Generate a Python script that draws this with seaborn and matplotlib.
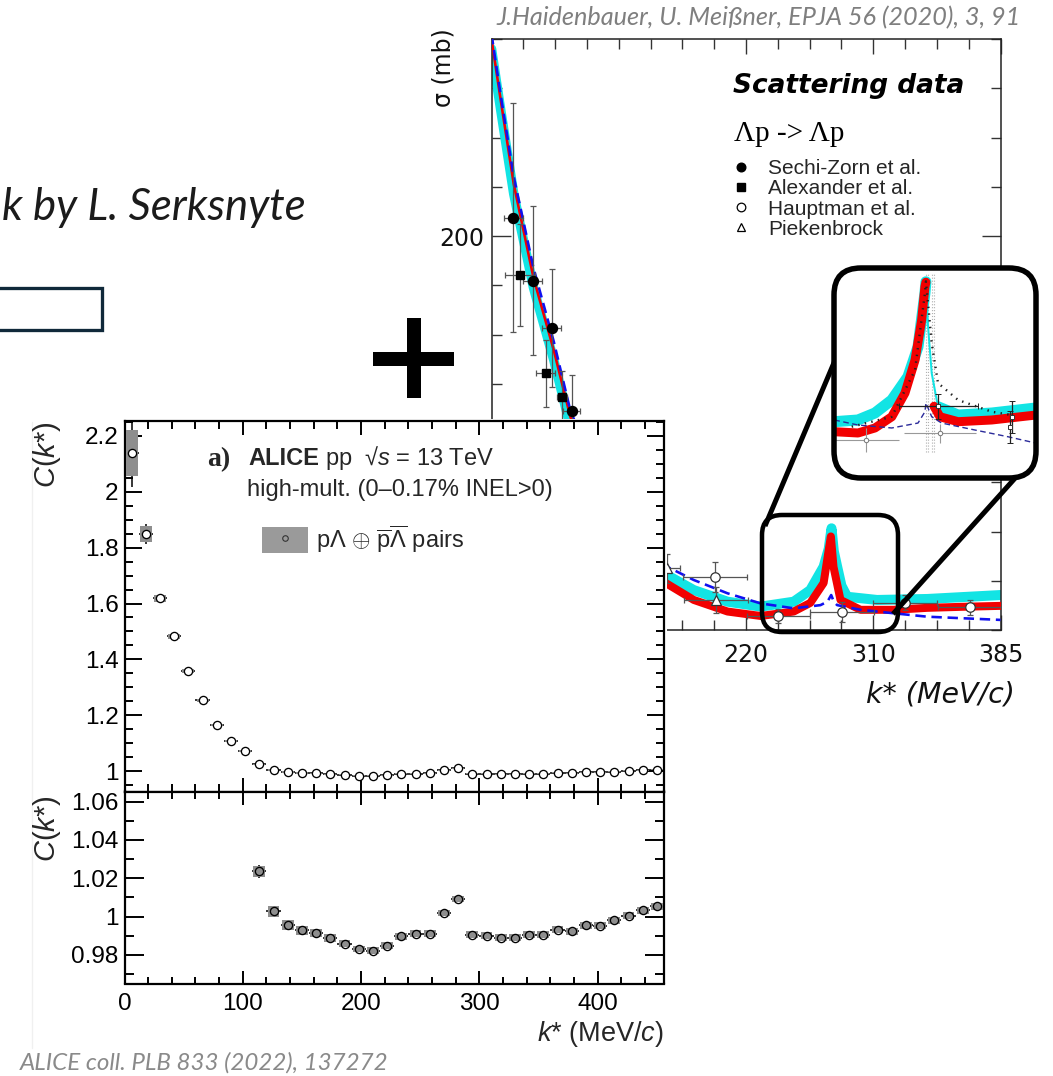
import matplotlib
matplotlib.use("Agg")
import matplotlib.pyplot as plt
import seaborn as sns
from matplotlib.patches import Rectangle, FancyBboxPatch, Patch
from matplotlib.lines import Line2D
from matplotlib.legend_handler import HandlerTuple
from matplotlib.ticker import MultipleLocator, FixedLocator, FixedFormatter, FormatStrFormatter, FuncFormatter

# ---------------- ALICE p-Lambda correlation function ----------------
kstar = [6, 18, 30, 42, 54, 66, 78, 90, 102, 114, 126, 138, 150, 162, 174, 186, 198, 210,
         222, 234, 246, 258, 270, 282, 294, 306, 318, 330, 342, 354, 366, 378, 390, 402,
         414, 426, 438, 450]
ck = [2.138, 1.849, 1.618, 1.482, 1.357, 1.253, 1.166, 1.108, 1.070, 1.0236, 1.0028, 0.9958,
      0.9929, 0.9915, 0.9889, 0.9859, 0.9831, 0.9822, 0.9849, 0.9897, 0.9910, 0.9911, 1.0019,
      1.0092, 0.9906, 0.9901, 0.9889, 0.9889, 0.9906, 0.9906, 0.9932, 0.9923, 0.9955, 0.9953,
      0.9981, 1.0005, 1.0033, 1.0054]
ck_stat = [0.12, 0.035, 0.012, 0.008, 0.006, 0.005, 0.004, 0.004, 0.003, 0.0035, 0.003, 0.0025,
           0.0022, 0.0018, 0.0018, 0.0018, 0.0018, 0.0018, 0.0018, 0.0018, 0.0018, 0.0018,
           0.0018, 0.0018, 0.0018, 0.0018, 0.0018, 0.0018, 0.0018, 0.0018, 0.0018, 0.0018,
           0.0018, 0.0018, 0.0018, 0.0018, 0.0018, 0.0018]
ck_syst = [0.083, 0.027, 0.012, 0.008, 0.007, 0.005, 0.004, 0.004, 0.0035, 0.003, 0.0028,
           0.0026, 0.0024, 0.0022, 0.002, 0.0018, 0.0018, 0.0018, 0.0018, 0.0018, 0.0018,
           0.0018, 0.0018, 0.0018, 0.0018, 0.0018, 0.0018, 0.0018, 0.0018, 0.0018, 0.0018,
           0.0018, 0.0018, 0.0018, 0.0018, 0.0018, 0.0018, 0.0018]
bin_half = 6
syst_box_width = 10

# ---------------- Lambda-p cross sections (p_lab in MeV/c, sigma in mb) ----------------
plab_ticks = [500, 700, 900]
kstar_tick_labels = ["220", "310", "385"]

sechi_p = [134.3, 164.8, 194.6, 226.1]
sechi_s = [207.4, 181.8, 162.5, 129.1]
sechi_dp = [15, 15, 15, 13]
sechi_ds = [46.5, 30.3, 24.0, 14.6]

alex_p = [144.8, 185.2, 210.3]
alex_s = [184.2, 144.2, 134.5]
alex_dp = [24, 15, 8]
alex_ds = [20.6, 13.5, 10.5]

haupt_p = [451.3, 550.8, 650.4, 749.9, 852.0]
haupt_s = [61.6, 45.7, 47.4, 51.1, 49.2]
haupt_dp = [50, 50, 50, 50, 50]
haupt_ds = [6.1, 3.0, 4.0, 3.0, 3.0]

pieken_p = [376.3, 452.8]
pieken_s = [65.0, 52.2]
pieken_dp = [20, 50]
pieken_ds = [6.0, 5.1]

red_p = [100, 114, 135, 166, 198, 224, 250, 275, 300, 325, 350, 366, 418, 471, 523, 575,
         601, 622, 630, 633.4, 637.5, 648.5, 680, 732, 785, 837, 900]
red_s = [280, 256, 221, 183, 153.5, 126.5, 112, 100, 88, 78, 67, 60.3, 52.2, 47.5, 45.7, 47.5,
         51, 59.1, 72.5, 78, 65.7, 52.2, 48.2, 48.2, 49, 49.4, 49.8]
cyan_p = [100, 114, 135, 166, 198, 224, 250, 275, 300, 325, 350, 366, 418, 471, 523, 575,
          601, 622, 630, 634.4, 638, 643.3, 650, 659, 706, 785, 900]
cyan_s = [276, 252, 217, 179, 149.5, 122.5, 108, 97, 87, 78.5, 70, 63.7, 56.2, 51.5, 49.5,
          51.5, 56.2, 65.7, 73, 81.3, 72, 65.7, 58, 53.5, 52.2, 52.6, 54.2]
blue_p = [100, 114, 135, 166, 198, 224, 250, 275, 300, 325, 350, 376, 418, 471, 523, 575,
          617, 628, 633.9, 638, 643.3, 680, 732, 785, 900]
blue_s = [282, 258, 224, 187, 157, 129, 113, 100, 89, 80, 71, 65.7, 60.3, 54.9, 50.8, 48.8,
          50.1, 51.5, 54.2, 51.5, 50.1, 48.2, 46.8, 45.4, 44.1]

# zoom on the Sigma-N threshold cusp
zin_red_left_p = [579, 593.3, 603.6, 613.8, 621.8, 627.9, 631.9, 633.9, 634.5]
zin_red_left_s = [5.21, 5.06, 5.65, 6.97, 9.76, 13.64, 18.35, 22.26, 22.8]
zin_red_right_p = [639.4, 643.0, 654.0, 674.4, 701.0]
zin_red_right_s = [8.2, 6.97, 6.39, 6.59, 7.17]
zin_cyan_p = [579, 593.3, 603.6, 613.8, 623.6, 629.7, 633.9, 634.5, 635.8, 638.0, 641.8,
              654.0, 674.4, 701.0]
zin_cyan_s = [6.39, 6.59, 7.41, 8.94, 11.68, 15.2, 21.5, 22.85, 17.56, 12.1, 8.15, 7.17,
              7.41, 8.0]
zin_dot_p = [589.5, 613.8, 627.9, 633.9, 634.5, 638.0, 641.8, 654.0, 674.4, 686.5]
zin_dot_s = [5.8, 6.97, 12.47, 21.5, 22.9, 15.64, 10.94, 8.94, 7.56, 7.17]
zin_dash_p = [579, 593.3, 613.8, 629.7, 633.9, 634.5, 638.0, 644.0, 664.2, 684.2, 701.0]
zin_dash_s = [6.59, 6.0, 5.65, 6.23, 7.56, 8.59, 6.97, 6.23, 5.41, 4.62, 3.88]
zin_thresholds = [634.5, 635.9, 638.3, 639.5]
zin_circ_p = [598, 643]
zin_circ_s = [4.23, 5.02]
zin_circ_dp = [20, 22]
zin_circ_ds = [1.45, 1.1]
zin_sq_p = [642, 686.5, 685.5]
zin_sq_s = [8.23, 6.97, 5.8]
zin_sq_dp = [24, 0, 0]
zin_sq_ds = [1.47, 1.9, 1.9]

# ---------------- style ----------------
sns.set_theme(style="ticks")
plt.rcParams["font.family"] = ["Liberation Sans", "DejaVu Sans"]
plt.rcParams["mathtext.fontset"] = "custom"
plt.rcParams["mathtext.rm"] = "Liberation Sans"
plt.rcParams["mathtext.it"] = "Liberation Sans:italic"
plt.rcParams["mathtext.bf"] = "Liberation Sans:bold"
plt.rcParams["axes.facecolor"] = "white"

W, H = 1053, 1076
fig = plt.figure(figsize=(W / 100, H / 100), dpi=100)
fig.patch.set_facecolor("white")


def fbox(left, top, right, bottom):
    return [left / W, 1 - bottom / H, (right - left) / W, (bottom - top) / H]


def fp(x, y):
    return x / W, 1 - y / H


def pt(px):
    return px * 0.72


# ================= cross-section panel =================
ax_s = fig.add_axes(fbox(491.5, 39, 1000.5, 630), zorder=0)
ax_s.set_xlim(100, 900)
ax_s.set_ylim(40, 280)

cyan_c, red_c, blue_c = "#12e4e4", "#f20000", "#1010f0"
sns.lineplot(x=cyan_p[:11], y=cyan_s[:11], ax=ax_s, color=cyan_c, lw=pt(9.5),
             sort=False, estimator=None, zorder=2)
sns.lineplot(x=cyan_p[10:], y=cyan_s[10:], ax=ax_s, color=cyan_c, lw=pt(10),
             sort=False, estimator=None, zorder=2)
sns.lineplot(x=red_p[:11], y=red_s[:11], ax=ax_s, color=red_c, lw=pt(2.6),
             sort=False, estimator=None, zorder=3)
sns.lineplot(x=red_p[10:], y=red_s[10:], ax=ax_s, color=red_c, lw=pt(8),
             sort=False, estimator=None, zorder=3)
sns.lineplot(x=blue_p, y=blue_s, ax=ax_s, color=blue_c, lw=pt(2.6), linestyle=(0, (4, 2.2)),
             sort=False, estimator=None, zorder=4)

eb_kw = dict(ecolor="#555555", elinewidth=0.9, capsize=2.5, capthick=0.9, ls="none", zorder=6)
ax_s.errorbar(sechi_p, sechi_s, xerr=sechi_dp, yerr=sechi_ds, marker="o", ms=7.2,
              mfc="black", mec="black", **eb_kw)
ax_s.errorbar(alex_p, alex_s, xerr=alex_dp, yerr=alex_ds, marker="s", ms=6.2,
              mfc="black", mec="black", **eb_kw)
ax_s.errorbar(haupt_p, haupt_s, xerr=haupt_dp, yerr=haupt_ds, marker="o", ms=6.8,
              mfc="white", mec="#333333", mew=0.9, **eb_kw)
ax_s.errorbar(pieken_p, pieken_s, xerr=pieken_dp, yerr=pieken_ds, marker="^", ms=6.8,
              mfc="white", mec="#333333", mew=0.9, **eb_kw)

ax_s.xaxis.set_major_locator(FixedLocator(plab_ticks))
ax_s.xaxis.set_major_formatter(FixedFormatter(kstar_tick_labels))
ax_s.xaxis.set_minor_locator(MultipleLocator(50))
ax_s.yaxis.set_major_locator(FixedLocator([200]))
ax_s.yaxis.set_major_formatter(FormatStrFormatter("%d"))
ax_s.yaxis.set_minor_locator(MultipleLocator(20))
ax_s.tick_params(which="both", direction="in", top=True, right=True, color="#333333",
                 width=1.0, labelcolor="#111111")
ax_s.tick_params(which="major", length=11)
ax_s.tick_params(which="minor", length=7)
ax_s.tick_params(axis="x", which="major", pad=9.5, labelsize=17)
ax_s.tick_params(axis="y", which="major", pad=5, labelsize=17, length=14)
for lab in ax_s.get_xticklabels() + ax_s.get_yticklabels():
    lab.set_family("DejaVu Sans")
for sp in ax_s.spines.values():
    sp.set_color("#222222")
    sp.set_linewidth(1.1)
ax_s.set_xlabel("")
ax_s.set_ylabel("")

fig.text(*fp(443, 68), "σ (mb)", rotation=90, ha="center", va="center", fontsize=17,
         family="DejaVu Sans", color="#111111")
fig.text(*fp(1015, 694), "k* (MeV/c)", ha="right", va="center", fontsize=20.5,
         family="DejaVu Sans", style="italic", color="#111111")

t_sd = fig.text(*fp(733, 86), "Scattering data", ha="left", va="center", fontsize=18,
                family="DejaVu Sans", weight="bold", style="italic", color="black")
t_lp = fig.text(*fp(734, 134), "Λp -> Λp", ha="left", va="center", fontsize=21,
                family="Liberation Serif", color="black")

leg_handles = [
    Line2D([], [], ls="none", marker="o", ms=6.2, mfc="black", mec="black"),
    Line2D([], [], ls="none", marker="s", ms=5.4, mfc="black", mec="black"),
    Line2D([], [], ls="none", marker="o", ms=6.2, mfc="white", mec="black", mew=0.9),
    Line2D([], [], ls="none", marker="^", ms=6.2, mfc="white", mec="black", mew=0.9),
]
leg_labels = ["Sechi-Zorn et al.", "Alexander et al.", "Hauptman et al.", "Piekenbrock"]
ax_s.legend(leg_handles, leg_labels, loc="upper left", bbox_to_anchor=fp(733, 159),
            bbox_transform=fig.transFigure, frameon=False, fontsize=15, handlelength=0.72,
            handletextpad=0.95, labelspacing=0.06, borderpad=0, borderaxespad=0)

# ================= white backdrop of the ALICE panel =================
fig.add_artist(Rectangle(fp(27, 1058), 640 / W, (1058 - 419) / H, transform=fig.transFigure,
                         facecolor="white", edgecolor="none", zorder=1))
fig.add_artist(Line2D([32 / W, 32 / W], [1 - 1048 / H, 1 - 422 / H], transform=fig.transFigure,
                      color="#f0f0f0", lw=1.0, zorder=1))

# ================= ALICE correlation panels =================
ax_u = fig.add_axes(fbox(124.5, 421, 664, 791.5), zorder=2)
ax_l = fig.add_axes(fbox(124.5, 791.5, 664, 983.5), zorder=2)

box_bottom = [c - s for c, s in zip(ck, ck_syst)]
box_height = [2 * s for s in ck_syst]
for ax, face in ((ax_u, "white"), (ax_l, "none")):
    ax.errorbar(kstar, ck, xerr=bin_half, yerr=ck_stat, ls="none", ecolor="black",
                elinewidth=1.1, capsize=0, zorder=2)
    ax.bar(kstar, box_height, bottom=box_bottom, width=syst_box_width, color="#8e8e8e",
           edgecolor="none", zorder=3)
    ax.plot(kstar, ck, ls="none", marker="o", ms=5.9, mfc=face, mec="black", mew=0.95,
            zorder=4)
    ax.set_xlim(0, 456)
    ax.xaxis.set_major_locator(MultipleLocator(100))
    ax.xaxis.set_minor_locator(MultipleLocator(20))
    ax.tick_params(which="both", direction="in", top=True, right=True, color="black",
                   width=1.4, labelsize=17.5, labelcolor="black")
    for sp in ax.spines.values():
        sp.set_linewidth(1.6)
        sp.set_color("black")

ax_u.set_ylim(0.9266, 2.2537)
ax_u.yaxis.set_major_locator(MultipleLocator(0.2))
ax_u.yaxis.set_minor_locator(MultipleLocator(0.05))
ax_u.yaxis.set_major_formatter(FuncFormatter(lambda v, _: f"{v:g}"))
ax_u.tick_params(axis="x", which="major", length=10, labelbottom=False)
ax_u.tick_params(axis="x", which="minor", length=6)
ax_u.tick_params(axis="y", which="major", length=12, pad=4.3)
ax_u.tick_params(axis="y", which="minor", length=5.8)

ax_l.set_ylim(0.9651, 1.0653)
ax_l.yaxis.set_major_locator(FixedLocator([0.98, 1.0, 1.02, 1.04, 1.06]))
ax_l.yaxis.set_minor_locator(MultipleLocator(0.01))
ax_l.yaxis.set_major_formatter(FuncFormatter(lambda v, _: f"{v:g}"))
ax_l.xaxis.set_major_formatter(FuncFormatter(lambda v, _: f"{v:g}"))
ax_l.tick_params(axis="x", which="major", length=9.4, pad=6.8)
ax_l.tick_params(axis="x", which="minor", length=4.7)
ax_l.tick_params(axis="y", which="major", length=14, pad=4.3)
ax_l.tick_params(axis="y", which="minor", length=6.5)

fig.text(*fp(47, 421), "$C$($k$*)", rotation=90, ha="center", va="top", fontsize=21, zorder=3)
fig.text(*fp(47, 795), "$C$($k$*)", rotation=90, ha="center", va="top", fontsize=21, zorder=3)
fig.text(*fp(664, 1034), "$k$* (MeV/$c$)", ha="right", va="center", fontsize=19.5, zorder=3)

fig.text(*fp(207, 466), "a)", ha="left", va="baseline", fontsize=20,
         family="Liberation Serif", weight="bold", zorder=3)
fig.text(*fp(248, 465), "ALICE", ha="left", va="baseline", fontsize=17, weight="bold", zorder=3)
fig.text(*fp(325, 465), "pp  √$s$ = 13 TeV", ha="left", va="baseline", fontsize=17, zorder=3)
fig.text(*fp(247, 496), "high-mult. (0–0.17% INEL>0)", ha="left", va="baseline",
         fontsize=17, zorder=3)
ax_u.legend([(Patch(facecolor="#9a9a9a", edgecolor="none"),
              Line2D([], [], ls="none", marker="o", ms=4, mfc="none", mec="#333333", mew=0.8))],
            [r"p$\Lambda$ $\oplus$ $\overline{\mathrm{p}}\overline{\Lambda}$ pairs"],
            handler_map={tuple: HandlerTuple(ndivide=1, pad=0)},
            loc="upper left", bbox_to_anchor=fp(262, 523), bbox_transform=fig.transFigure,
            frameon=False, fontsize=17, handlelength=1.95, handleheight=1.27,
            handletextpad=0.35, borderpad=0, borderaxespad=0)

# ================= decorations: zoom boxes, connectors, plus, frames =================
def rounded(x0, y0, x1, y1, r, lw, fill, z):
    p = FancyBboxPatch((x0 / 100, (H - y1) / 100), (x1 - x0) / 100, (y1 - y0) / 100,
                       boxstyle=f"round,pad=0,rounding_size={r / 100}",
                       transform=fig.dpi_scale_trans, facecolor=fill, edgecolor="black",
                       linewidth=pt(lw), zorder=z)
    fig.add_artist(p)


def seg(x0, y0, x1, y1, lw, z=3):
    fig.add_artist(Line2D([x0 / W, x1 / W], [1 - y0 / H, 1 - y1 / H], transform=fig.transFigure,
                          color="black", lw=pt(lw), solid_capstyle="butt", zorder=z))


rounded(762, 515, 898, 632, 20, 4.5, "none", 3)
seg(765, 526, 836, 358, 5)
seg(893, 614, 1026, 466, 5)
rounded(834, 268, 1036, 478, 27, 0.01, "white", 4)

ax_in = fig.add_axes(fbox(836, 272, 1034, 476), zorder=5)
ax_in.set_xlim(580, 700)
ax_in.set_ylim(0, 24)
ax_in.axis("off")
ax_in.vlines(zin_thresholds, 2.8, 23.8, colors="#b0b0b0", lw=0.8, linestyles=":")
sns.lineplot(x=zin_cyan_p, y=zin_cyan_s, ax=ax_in, color=cyan_c, lw=pt(2), sort=False,
             estimator=None)
sns.lineplot(x=zin_cyan_p[:8], y=zin_cyan_s[:8], ax=ax_in, color=cyan_c, lw=pt(11),
             sort=False, estimator=None)
sns.lineplot(x=zin_cyan_p[10:], y=zin_cyan_s[10:], ax=ax_in, color=cyan_c, lw=pt(11),
             sort=False, estimator=None)
sns.lineplot(x=zin_red_left_p, y=zin_red_left_s, ax=ax_in, color=red_c, lw=pt(9),
             sort=False, estimator=None)
sns.lineplot(x=zin_red_right_p, y=zin_red_right_s, ax=ax_in, color=red_c, lw=pt(9),
             sort=False, estimator=None)
sns.lineplot(x=zin_dot_p, y=zin_dot_s, ax=ax_in, color="#222222", lw=pt(2.4),
             linestyle=(0, (0.6, 2.2)), sort=False, estimator=None)
sns.lineplot(x=zin_dash_p, y=zin_dash_s, ax=ax_in, color="#2b2b9a", lw=pt(1.4),
             linestyle=(0, (4, 2.5)), sort=False, estimator=None)
ax_in.errorbar(zin_circ_p, zin_circ_s, xerr=zin_circ_dp, yerr=zin_circ_ds, ls="none",
               marker="o", ms=3.2, mfc="white", mec="#777777", mew=0.7, ecolor="#999999",
               elinewidth=0.8, zorder=6)
ax_in.errorbar(zin_sq_p, zin_sq_s, xerr=zin_sq_dp, yerr=zin_sq_ds, ls="none", marker="s",
               ms=3.0, mfc="white", mec="#333333", mew=0.7, ecolor="#222222",
               elinewidth=0.9, capsize=2, zorder=6)
ax_in.set_xlabel("")
ax_in.set_ylabel("")
rounded(834, 268, 1036, 478, 27, 5.5, "none", 6)

# big plus sign
fig.add_artist(Rectangle(fp(406.7, 398), 14 / W, 80 / H, transform=fig.transFigure,
                         facecolor="black", edgecolor="none", zorder=3))
fig.add_artist(Rectangle(fp(373, 365.7), 81 / W, 14 / H, transform=fig.transFigure,
                         facecolor="black", edgecolor="none", zorder=3))

# title frame at the left edge
fig.add_artist(Rectangle(fp(-6, 330), 108 / W, 42.3 / H, transform=fig.transFigure,
                         facecolor="none", edgecolor="#10293a", lw=pt(3.3), zorder=3))

# ================= slide captions =================
t_top = fig.text(*fp(496, 18), "J.Haidenbauer, U. Meißner, EPJA 56 (2020), 3, 91",
                 ha="left", va="center", fontsize=16, family="Lato", style="italic",
                 color="#7f7f7f", zorder=3)
t_bot = fig.text(*fp(19.5, 1063), "ALICE coll. PLB 833 (2022), 137272", ha="left",
                 va="center", fontsize=16, family="Lato", style="italic", color="#8a8a8a",
                 zorder=3)
t_auth = fig.text(*fp(2, 207), "k by L. Serksnyte", ha="left", va="center", fontsize=26,
                  family="Lato", style="italic", color="#1b1b1b", zorder=3)


def fit_width(txt, width_px):
    r = fig.canvas.get_renderer()
    w = txt.get_window_extent(renderer=r).width
    txt.set_fontsize(txt.get_fontsize() * width_px / w)


fit_width(t_top, 525)
fit_width(t_bot, 370)
fit_width(t_auth, 304)
fit_width(t_sd, 232)

fig.savefig("out.png", dpi=100, facecolor="white")
